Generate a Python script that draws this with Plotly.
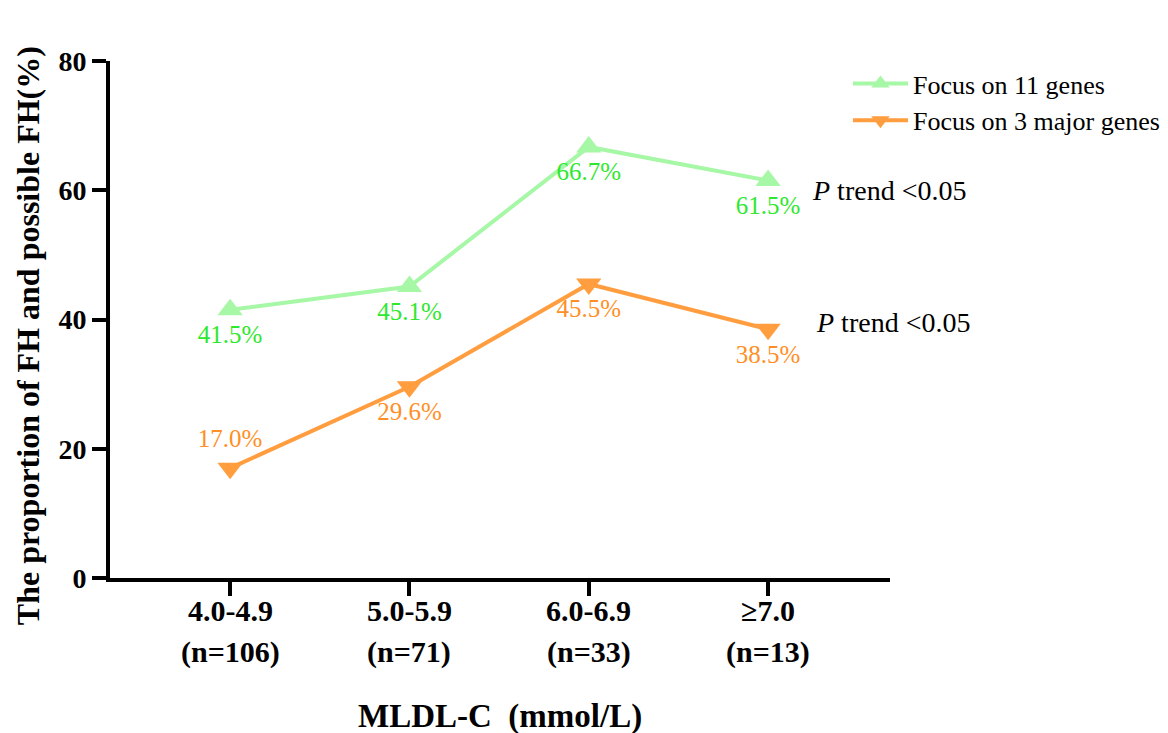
import plotly.graph_objects as go

range_labels = ["4.0-4.9", "5.0-5.9", "6.0-6.9", "≥7.0"]
n_labels = ["(n=106)", "(n=71)", "(n=33)", "(n=13)"]
genes11 = [41.5, 45.1, 66.7, 61.5]
genes3 = [17.0, 29.6, 45.5, 38.5]
pos3 = ["top center", "bottom center", "bottom center", "bottom center"]
xs = list(range(len(range_labels)))

GREEN_LINE = "#a6f7a6"
GREEN_TXT = "#2ee82e"
ORANGE_LINE = "#ff9d3f"
ORANGE_TXT = "#ff8f26"
FONT = "Liberation Serif"

fig = go.Figure()
fig.add_trace(go.Scatter(
    x=xs, y=genes11, mode="lines+markers+text", name="Focus on 11 genes",
    line=dict(color=GREEN_LINE, width=4),
    marker=dict(symbol="triangle-up", size=22, color=GREEN_LINE),
    text=[f"{v:.1f}%" for v in genes11], textposition="bottom center",
    textfont=dict(family=FONT, size=25, color=GREEN_TXT),
))
fig.add_trace(go.Scatter(
    x=xs, y=genes3, mode="lines+markers+text", name="Focus on 3 major genes",
    line=dict(color=ORANGE_LINE, width=4),
    marker=dict(symbol="triangle-down", size=22, color=ORANGE_LINE),
    text=[f"{v:.1f}%" for v in genes3], textposition=pos3,
    textfont=dict(family=FONT, size=25, color=ORANGE_TXT),
))

for xp, yv in [(0.898, 60), (0.903, 39.5)]:
    fig.add_annotation(x=xp, xref="paper", y=yv, yref="y", xanchor="left",
                       text="<i>P</i> trend <0.05", showarrow=False,
                       font=dict(family=FONT, size=28, color="black"))

# category tick labels (two lines) placed at the x-axis category positions
for xv, rl, nl in zip(xs, range_labels, n_labels):
    fig.add_annotation(x=xv, xref="x", y=-0.062, yref="paper", yanchor="middle",
                       text=f"<b>{rl}</b>", showarrow=False,
                       font=dict(family=FONT, size=30, color="black"))
    fig.add_annotation(x=xv, xref="x", y=-0.143, yref="paper", yanchor="middle",
                       text=f"<b>{nl}</b>", showarrow=False,
                       font=dict(family=FONT, size=30, color="black"))

fig.add_annotation(x=0.5, xref="paper", y=-0.267, yref="paper", yanchor="middle",
                   text="<b>MLDL-C  (mmol/L)</b>", showarrow=False,
                   font=dict(family=FONT, size=33, color="black"))

fig.add_annotation(x=-0.105, xref="paper", y=0.468, yref="paper",
                   xanchor="center", yanchor="middle", textangle=-90,
                   text="<b>The proportion of FH and possible FH(%)</b>", showarrow=False,
                   font=dict(family=FONT, size=32, color="black"))

fig.update_layout(
    width=1168, height=733,
    margin=dict(l=110, r=278, t=61, b=155, autoexpand=False),
    plot_bgcolor="white", paper_bgcolor="white",
    font=dict(family=FONT, color="black"),
    legend=dict(x=0.726, y=0.918, xref="container", yref="container",
                xanchor="left", yanchor="top",
                font=dict(family=FONT, size=26), bgcolor="rgba(0,0,0,0)",
                tracegroupgap=0, itemwidth=55),
    showlegend=True,
)
fig.update_xaxes(
    range=[-0.67, 3.68], tickmode="array", tickvals=xs, showticklabels=False,
    showline=True, linecolor="black", linewidth=4, mirror=False,
    ticks="outside", ticklen=14, tickwidth=4, tickcolor="black",
    showgrid=False, zeroline=False, automargin=False,
)
fig.update_yaxes(
    range=[0, 80], tickvals=[0, 20, 40, 60, 80],
    showline=True, linecolor="black", linewidth=4,
    ticks="outside", ticklen=14, tickwidth=4, tickcolor="black",
    showgrid=False, zeroline=False, automargin=False,
    tickfont=dict(family=FONT, size=28, color="black", weight="bold"),
)

fig.write_html("out.html", config={"displayModeBar": False},
               post_script="document.body.style.margin='0';document.body.style.overflow='hidden';")
